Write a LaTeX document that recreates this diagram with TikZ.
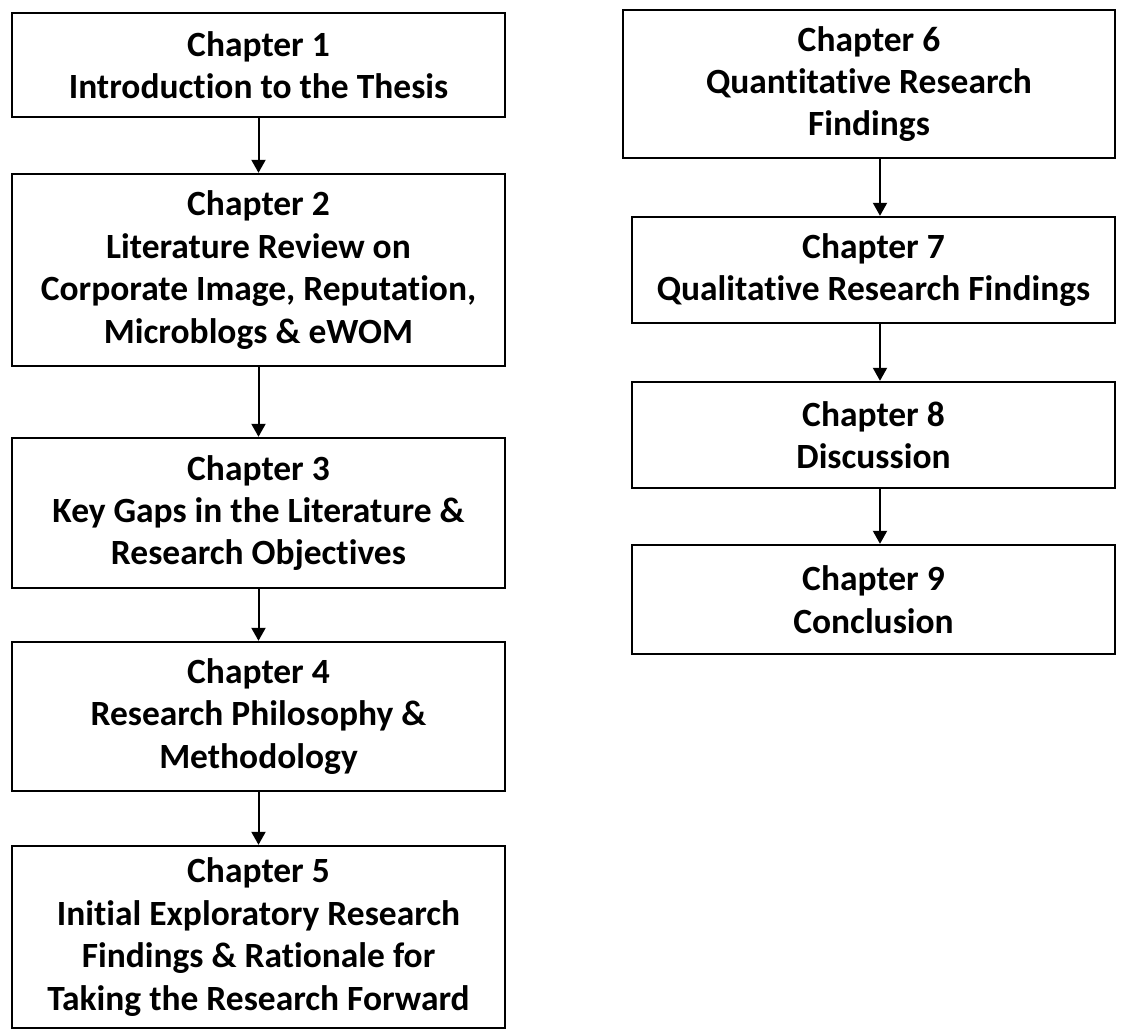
\documentclass[tikz,border=0pt]{standalone}
\usepackage{fontspec}
\setmainfont[Ligatures={NoCommon}]{Carlito}
\usetikzlibrary{arrows.meta}
\tikzset{
  chap/.style={draw, line width=1.8pt, align=center, inner sep=0pt,
    font=\bfseries\fontsize{26.6}{31.8}\selectfont},
  arr/.style={line width=1.5pt, -{Triangle[length=9.75pt,width=10.5pt]}}
}
\begin{document}
\begin{tikzpicture}[x=0.75pt,y=-0.75pt]
\useasboundingbox (0,0) rectangle (1122,1032);
% left column
\node[chap, minimum width={493*0.75pt}, minimum height={104*0.75pt}] (b1) at (258.5,65) {Chapter 1\\Introduction to the Thesis};
\node[chap, minimum width={493*0.75pt}, minimum height={192*0.75pt}] (b2) at (258.5,270) {Chapter 2\\Literature Review on\\Corporate Image, Reputation,\\Microblogs \& eWOM};
\node[chap, minimum width={493*0.75pt}, minimum height={150*0.75pt}] (b3) at (258.5,513) {Chapter 3\\Key Gaps in the Literature \&\\Research Objectives};
\node[chap, minimum width={493*0.75pt}, minimum height={149*0.75pt}] (b4) at (258.5,716.5) {Chapter 4\\Research Philosophy \&\\Methodology};
\node[chap, minimum width={493*0.75pt}, minimum height={182*0.75pt}] (b5) at (258.5,937) {Chapter 5\\Initial Exploratory Research\\Findings \& Rationale for\\Taking the Research Forward};
% right column
\node[chap, minimum width={492*0.75pt}, minimum height={148*0.75pt}] (b6) at (869,84) {Chapter 6\\Quantitative Research\\Findings};
\node[chap, minimum width={483*0.75pt}, minimum height={106*0.75pt}] (b7) at (873.5,270) {Chapter 7\\Qualitative Research Findings};
\node[chap, minimum width={483*0.75pt}, minimum height={106*0.75pt}] (b8) at (873.5,435) {Chapter 8\\Discussion};
\node[chap, minimum width={483*0.75pt}, minimum height={109*0.75pt}] (b9) at (873.5,599.5) {Chapter 9\\Conclusion};
% arrows
\draw[arr] (b1.south) -- (b2.north);
\draw[arr] (b2.south) -- (b3.north);
\draw[arr] (b3.south) -- (b4.north);
\draw[arr] (b4.south) -- (b5.north);
\draw[arr] ([xshift=8.25pt]b6.south) -- ([xshift=4.875pt]b7.north);
\draw[arr] ([xshift=4.875pt]b7.south) -- ([xshift=4.875pt]b8.north);
\draw[arr] ([xshift=4.875pt]b8.south) -- ([xshift=4.875pt]b9.north);
\end{tikzpicture}
\end{document}
